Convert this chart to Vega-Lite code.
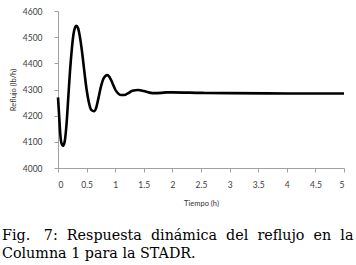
{
  "$schema": "https://vega.github.io/schema/vega-lite/v6.json",
  "width": 286,
  "height": 157,
  "autosize": {"type": "none"},
  "padding": {"left": 58, "top": 11, "right": 12, "bottom": 97},
  "background": "white",
  "title": {
    "text": ["Fig.\u00a0\u00a0\u00a07:\u00a0\u00a0Respuesta\u00a0\u00a0dinámica\u00a0\u00a0del\u00a0\u00a0reflujo\u00a0\u00a0en\u00a0\u00a0la", "Columna 1 para la STADR."],
    "orient": "bottom",
    "anchor": "start",
    "frame": "group",
    "dx": -56,
    "offset": 22,
    "font": "DejaVu Serif",
    "fontSize": 14.3,
    "fontWeight": "normal",
    "color": "black",
    "lineHeight": 18,
    "baseline": "top"
  },
  "config": {
    "view": {"stroke": null},
    "axis": {
      "grid": false,
      "domainColor": "#a0a0a0",
      "tickColor": "#a0a0a0",
      "labelColor": "#404040",
      "labelFont": "Lato",
      "labelFontSize": 8.5,
      "titleFont": "Lato",
      "titleFontSize": 7.5,
      "titleFontWeight": "normal",
      "titleColor": "#333333",
      "tickSize": 4
    }
  },
  "data": {"values": [
    {"t": 0, "r": 4270},
    {"t": 0.02, "r": 4200},
    {"t": 0.04, "r": 4130},
    {"t": 0.06, "r": 4095},
    {"t": 0.09, "r": 4085},
    {"t": 0.12, "r": 4105},
    {"t": 0.15, "r": 4170},
    {"t": 0.18, "r": 4270},
    {"t": 0.21, "r": 4370},
    {"t": 0.24, "r": 4450},
    {"t": 0.27, "r": 4510},
    {"t": 0.30, "r": 4538},
    {"t": 0.32, "r": 4543},
    {"t": 0.35, "r": 4535},
    {"t": 0.38, "r": 4505},
    {"t": 0.42, "r": 4445},
    {"t": 0.46, "r": 4370},
    {"t": 0.50, "r": 4300},
    {"t": 0.54, "r": 4250},
    {"t": 0.58, "r": 4222},
    {"t": 0.63, "r": 4217},
    {"t": 0.67, "r": 4232},
    {"t": 0.71, "r": 4270},
    {"t": 0.75, "r": 4310},
    {"t": 0.80, "r": 4343},
    {"t": 0.86, "r": 4355},
    {"t": 0.90, "r": 4348},
    {"t": 0.95, "r": 4325},
    {"t": 1.00, "r": 4300},
    {"t": 1.05, "r": 4285},
    {"t": 1.10, "r": 4279},
    {"t": 1.16, "r": 4279},
    {"t": 1.22, "r": 4285},
    {"t": 1.30, "r": 4295},
    {"t": 1.40, "r": 4298},
    {"t": 1.50, "r": 4294},
    {"t": 1.60, "r": 4288},
    {"t": 1.70, "r": 4286},
    {"t": 1.80, "r": 4287},
    {"t": 1.90, "r": 4289},
    {"t": 2.0, "r": 4289},
    {"t": 2.5, "r": 4287},
    {"t": 3.0, "r": 4286},
    {"t": 4.0, "r": 4285},
    {"t": 5.0, "r": 4285}
  ]},
  "mark": {"type": "line", "color": "black", "strokeWidth": 2.6, "interpolate": "monotone"},
  "encoding": {
    "x": {
      "field": "t", "type": "quantitative",
      "scale": {"domain": [0, 5], "nice": false},
      "axis": {"values": [0, 0.5, 1, 1.5, 2, 2.5, 3, 3.5, 4, 4.5, 5], "format": "~g", "title": "Tiempo (h)", "labelPadding": 8, "titlePadding": 11}
    },
    "y": {
      "field": "r", "type": "quantitative",
      "scale": {"domain": [4000, 4600], "nice": false, "zero": false},
      "axis": {"values": [4000, 4100, 4200, 4300, 4400, 4500, 4600], "format": "d", "title": "Reflujo (lb/h)", "labelPadding": 12, "titlePadding": 5}
    }
  }
}
